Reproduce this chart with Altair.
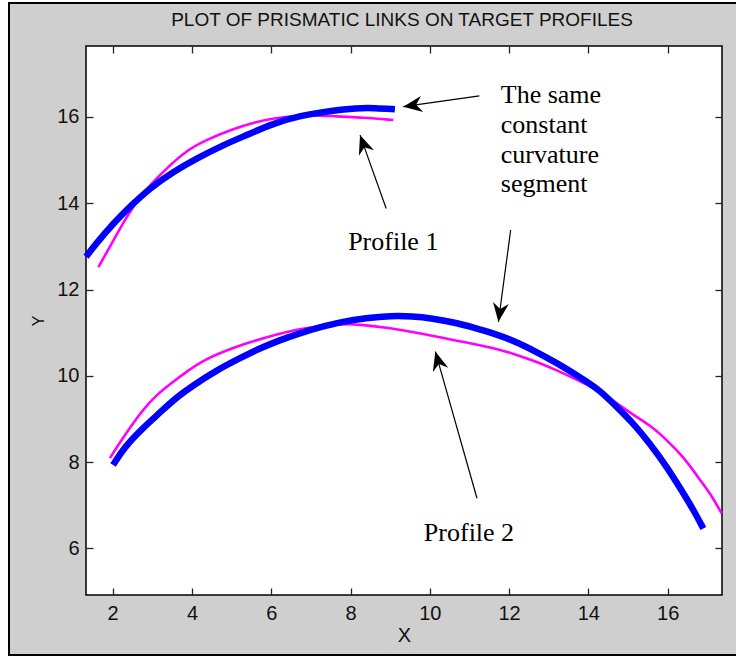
import math
import altair as alt
import pandas as pd

# ---------------- data ----------------
# Profile 1 target (magenta)
p1_target_x = [1.64, 1.93, 2.35, 2.69, 2.94, 3.36, 3.87, 4.37, 4.96, 5.63, 6.05, 6.6, 7.06, 7.65, 8.32, 9.08]
p1_target_y = [12.52, 12.99, 13.69, 14.15, 14.42, 14.81, 15.23, 15.47, 15.70, 15.89, 15.97, 16.02, 16.05, 16.01, 15.99, 15.93]
# Profile 1 prismatic link (blue)
p1_link_x = [1.33, 1.55, 2.02, 2.48, 2.94, 3.53, 4.12, 4.79, 5.38, 6.05, 6.73, 7.48, 8.16, 8.6, 9.12]
p1_link_y = [12.76, 13.03, 13.54, 13.96, 14.35, 14.73, 15.04, 15.35, 15.58, 15.85, 16.03, 16.14, 16.21, 16.21, 16.18]
# Profile 2 target (magenta)
p2_target_x = [1.93, 2.22, 2.75, 3.1, 3.48, 3.9, 4.31, 4.85, 5.36, 5.9, 6.40, 6.9, 7.45, 7.9, 8.29, 8.9, 9.54,
               10.05, 10.59, 11.1, 11.63, 12.15, 12.68, 13.2, 13.73, 14.1, 14.55, 15.13, 15.55, 15.98, 16.40, 16.82,
               17.07, 17.36]
p2_target_y = [8.09, 8.51, 9.21, 9.55, 9.83, 10.12, 10.37, 10.58, 10.75, 10.90, 11.02, 11.11, 11.18, 11.20, 11.18,
               11.12, 11.02, 10.93, 10.83, 10.74, 10.64, 10.50, 10.33, 10.13, 9.90, 9.73, 9.48, 9.09, 8.86, 8.51,
               8.12, 7.58, 7.28, 6.81]
# Profile 2 prismatic link (blue)
p2_link_x = [2.01, 2.3, 2.75, 3.2, 3.58, 4.1, 4.63, 5.15, 5.67, 6.2, 6.72, 7.25, 7.76, 8.4, 9.02, 9.55, 10.07,
             10.6, 11.1, 11.63, 12.15, 12.68, 13.2, 13.73, 14.29, 14.71, 15.13, 15.55, 15.98, 16.40, 16.65, 16.90]
p2_link_y = [7.93, 8.35, 8.78, 9.15, 9.48, 9.82, 10.13, 10.38, 10.62, 10.82, 10.99, 11.13, 11.25, 11.34, 11.39,
             11.38, 11.33, 11.24, 11.12, 10.98, 10.80, 10.56, 10.30, 10.00, 9.67, 9.28, 8.90, 8.43, 7.89, 7.27,
             6.89, 6.46]

x_ticks = [2, 4, 6, 8, 10, 12, 14, 16]
y_ticks = [6, 8, 10, 12, 14, 16]
x_domain = [1.327, 17.371]
y_domain = [4.917, 17.646]

ann_text = ["The same", "constant", "curvature", "segment", "Profile 1", "Profile 2"]
ann_x = [11.79, 11.79, 11.79, 11.79, 7.94, 9.85]
ann_y = [16.33, 15.62, 14.93, 14.27, 12.92, 6.17]

arrow_x_start = [11.25, 8.90, 12.04, 11.19]
arrow_y_start = [16.49, 13.88, 13.38, 7.16]
arrow_x_tip = [9.33, 8.24, 11.73, 10.14]
arrow_y_tip = [16.24, 15.58, 11.25, 10.56]

TITLE = "PLOT OF PRISMATIC LINKS ON TARGET PROFILES"

# ---------------- build tables ----------------
W, H = 636, 549
PX_X = W / (x_domain[1] - x_domain[0])
PX_Y = H / (y_domain[1] - y_domain[0])

def curve(name, xs, ys):
    return pd.DataFrame({"profile": name, "x": xs, "y": ys, "order": range(len(xs))})

target_df = pd.concat([curve("Profile 1", p1_target_x, p1_target_y),
                       curve("Profile 2", p2_target_x, p2_target_y)])
link_df = pd.concat([curve("Profile 1", p1_link_x, p1_link_y),
                     curve("Profile 2", p2_link_x, p2_link_y)])
ann_df = pd.DataFrame({"text": ann_text, "x": ann_x, "y": ann_y})

angles = []
for xs, ys, xt, yt in zip(arrow_x_start, arrow_y_start, arrow_x_tip, arrow_y_tip):
    dx = (xt - xs) * PX_X
    dy = -(yt - ys) * PX_Y
    angles.append(math.degrees(math.atan2(dx, -dy)) % 360)
arrow_df = pd.DataFrame({"x": arrow_x_start, "y": arrow_y_start,
                         "x2": arrow_x_tip, "y2": arrow_y_tip, "angle": angles})

xs_ = alt.Scale(domain=x_domain, nice=False, zero=False)
ys_ = alt.Scale(domain=y_domain, nice=False, zero=False)

SANS = "Liberation Sans, Arial, Helvetica, sans-serif"
SERIF = "Liberation Serif, Times New Roman, serif"

common_axis = dict(tickSize=7, domain=False, grid=False, tickColor="#222", tickWidth=1.3,
                   labelFont=SANS, labelFontSize=20, labelColor="#111", titleFont=SANS,
                   titleColor="#111", titleFontWeight="normal", offset=-7)

bottom_axis = alt.Axis(orient="bottom", values=x_ticks, labelPadding=8, title="X", titleFontSize=20,
                       titlePadding=2, **common_axis)
left_axis = alt.Axis(orient="left", values=y_ticks, labelPadding=7, title="Y", titleFontSize=16,
                     titlePadding=10, **common_axis)
top_axis = alt.Axis(orient="top", values=x_ticks, labels=False, title=None, **common_axis)
right_axis = alt.Axis(orient="right", values=y_ticks, labels=False, title=None, **common_axis)

# decorative figure frame (white outer strip + black border) and figure title
one = pd.DataFrame({"t": [TITLE]})
outer = alt.Chart(one).mark_rect(fill=None, stroke="white", strokeWidth=16).encode(
    x=alt.value(-86), x2=alt.value(700), y=alt.value(-52), y2=alt.value(618))
border = alt.Chart(one).mark_rect(fill=None, stroke="black", strokeWidth=2).encode(
    x=alt.value(-77), x2=alt.value(680), y=alt.value(-43), y2=alt.value(609))
title = alt.Chart(one).mark_text(font=SANS, fontSize=19, color="#111", align="center",
                                 baseline="alphabetic").encode(
    text="t:N", x=alt.value(W / 2 - 2), y=alt.value(-20))

target = alt.Chart(target_df).mark_line(color="#ff00ff", strokeWidth=2.6, interpolate="basis").encode(
    x=alt.X("x:Q", scale=xs_, axis=bottom_axis),
    y=alt.Y("y:Q", scale=ys_, axis=left_axis),
    detail="profile:N", order="order:Q")

link = alt.Chart(link_df).mark_line(color="#0000ff", strokeWidth=6.5, interpolate="basis").encode(
    x=alt.X("x:Q", scale=xs_, axis=top_axis),
    y=alt.Y("y:Q", scale=ys_, axis=right_axis),
    detail="profile:N", order="order:Q")

texts = alt.Chart(ann_df).mark_text(font=SERIF, fontSize=26, align="left", baseline="alphabetic",
                                    color="black").encode(
    x=alt.X("x:Q", scale=xs_, axis=None), y=alt.Y("y:Q", scale=ys_, axis=None), text="text:N")

rules = alt.Chart(arrow_df).mark_rule(color="black", strokeWidth=1.2).encode(
    x=alt.X("x:Q", scale=xs_, axis=None), y=alt.Y("y:Q", scale=ys_, axis=None), x2="x2:Q", y2="y2:Q")

heads = alt.Chart(arrow_df).mark_point(shape="M0,0 L0.8,1.9 L0,1.3 L-0.8,1.9 Z", filled=True, size=400,
                                       color="black", opacity=1, strokeWidth=0).encode(
    x=alt.X("x2:Q", scale=xs_, axis=None), y=alt.Y("y2:Q", scale=ys_, axis=None),
    angle=alt.Angle("angle:Q", scale=None))

chart = alt.layer(outer, border, title, target, link, rules, heads, texts).resolve_axis(
    x="independent", y="independent"
).properties(
    width=W, height=H,
    autosize=alt.AutoSizeParams(type="none"),
    padding={"left": 86, "top": 46, "right": 14, "bottom": 62},
).configure(background="#cfcfcf").configure_view(fill="white", stroke="black", strokeWidth=1.5)

chart.save("out.html", embed_options={"renderer": "svg", "actions": False})
